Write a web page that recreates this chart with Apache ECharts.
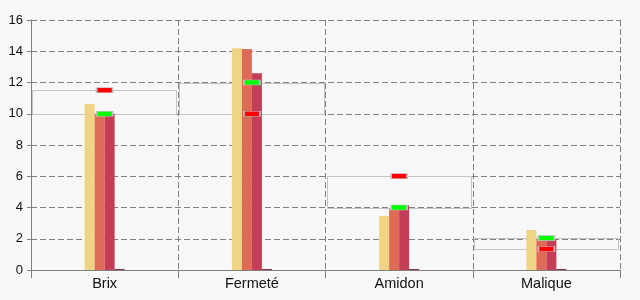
<!DOCTYPE html>
<html><head><meta charset="utf-8">
<script src="https://cdn.jsdelivr.net/npm/echarts@6/dist/echarts.min.js"></script>
<style>html,body{margin:0;padding:0;background:#f8f8f8}#c{width:640px;height:300px}</style>
</head><body><div id="c"></div>
<script>
var categories = ['Brix', 'Fermeté', 'Amidon', 'Malique'];
var yTicks = [0, 2, 4, 6, 8, 10, 12, 14, 16];
var serieA = [10.62, 14.2, 3.46, 2.56];
var serieB = [10.0, 14.14, 3.9, 1.96];
var serieC = [10.0, 12.6, 4.14, 1.96];
var serieD = [0.06, 0.06, 0.06, 0.06];
var greenMarks = [10.0, 12.0, 4.0, 2.04];
var redMarks = [11.5, 10.0, 6.0, 1.34];

var boxData = categories.map(function (c, i) {
  return [i, Math.min(greenMarks[i], redMarks[i]), Math.max(greenMarks[i], redMarks[i])];
});

var dashed = { color: '#808080', type: [6, 3], width: 1 };
var chart = echarts.init(document.getElementById('c'));
chart.setOption({
  backgroundColor: '#f8f8f8',
  animation: false,
  grid: { left: 31, right: 20, top: 20, bottom: 30 },
  xAxis: {
    type: 'category', data: categories,
    axisLine: { lineStyle: { color: '#808080' } },
    axisTick: { show: true, length: 8, lineStyle: { color: '#808080' } },
    splitLine: { show: true, lineStyle: dashed },
    axisLabel: { color: '#111', fontSize: 14.5, fontFamily: 'Liberation Sans, Arial, sans-serif', margin: 6 }
  },
  yAxis: {
    type: 'value', min: yTicks[0], max: yTicks[yTicks.length - 1], interval: 2,
    axisLine: { show: true, lineStyle: { color: '#808080' } },
    axisTick: { show: true, length: 4, lineStyle: { color: '#808080' } },
    splitLine: { show: true, lineStyle: dashed },
    axisLabel: { color: '#111', fontSize: 13, fontFamily: 'Liberation Sans, Arial, sans-serif', margin: 8 }
  },
  series: [
    {
      type: 'custom', z: 1, data: boxData,
      renderItem: function (params, api) {
        var lo = api.coord([api.value(0), api.value(1)]);
        var hi = api.coord([api.value(0), api.value(2)]);
        var w = api.size([1, 0])[0];
        var x0 = Math.round(lo[0] - w / 2 + 1) + 0.5;
        var x1 = Math.round(lo[0] + w / 2 - 2) + 0.5;
        var y0 = Math.round(hi[1]) + 0.5;
        var y1 = Math.round(lo[1]) + 0.5;
        return {
          type: 'rect',
          shape: { x: x0, y: y0, width: x1 - x0, height: y1 - y0 },
          style: { fill: 'none', stroke: '#c4c4c4', lineWidth: 1 }
        };
      }
    },
    { type: 'bar', z: 2, data: serieA, barWidth: 10, barGap: '0%', itemStyle: { color: '#EED484' } },
    { type: 'bar', z: 2, data: serieB, barWidth: 10, barGap: '0%', itemStyle: { color: '#DE6B55' } },
    { type: 'bar', z: 2, data: serieC, barWidth: 10, barGap: '0%', itemStyle: { color: '#C43E57' } },
    { type: 'bar', z: 2, data: serieD, barWidth: 10, barGap: '0%', itemStyle: { color: '#7A2B41' } },
    { type: 'scatter', z: 5, data: greenMarks, symbol: 'rect', symbolSize: [16, 5],
      itemStyle: { color: '#00ff00', borderColor: '#c0c0c0', borderWidth: 1, opacity: 1 } },
    { type: 'scatter', z: 5, data: redMarks, symbol: 'rect', symbolSize: [16, 5],
      itemStyle: { color: '#ff0000', borderColor: '#c0c0c0', borderWidth: 1, opacity: 1 } }
  ]
});
</script></body></html>
